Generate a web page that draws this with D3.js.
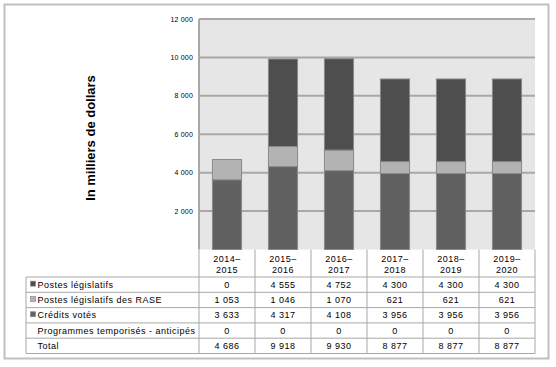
<!DOCTYPE html>
<html>
<head>
<meta charset="utf-8">
<script src="https://cdn.jsdelivr.net/npm/d3@7"></script>
<style>
  body { margin: 0; background: #fff; }
  text { font-family: "Liberation Sans", Arial, sans-serif; fill: #000; }
  .tbl text { letter-spacing: 0.5px; }
</style>
</head>
<body>
<script>
// DATA //
const years = ['2014–2015', '2015–2016', '2016–2017', '2017–2018', '2018–2019', '2019–2020'];
const postesLegislatifs = [0, 4555, 4752, 4300, 4300, 4300];
const postesRase = [1053, 1046, 1070, 621, 621, 621];
const creditsVotes = [3633, 4317, 4108, 3956, 3956, 3956];
const programmesTemp = [0, 0, 0, 0, 0, 0];
const totals = [4686, 9918, 9930, 8877, 8877, 8877];
const yTicks = [2000, 4000, 6000, 8000, 10000, 12000];

const seriesNames = ['Postes législatifs', 'Postes législatifs des RASE', 'Crédits votés', 'Programmes temporisés - anticipés', 'Total'];
const colors = { credits: '#616161', rase: '#b3b3b3', postes: '#4e4e4e' };

const fmt = v => d3.format(',')(v).replace(/,/g, ' ');

// dimensions
const W = 556, H = 367;
const plot = { left: 199, right: 535, top: 19, bottom: 249.5 };

const svg = d3.select('body').append('svg')
    .attr('width', W)
    .attr('height', H);

// outer frame
svg.append('rect')
    .attr('x', 4.5).attr('y', 4.5)
    .attr('width', 544).attr('height', 354)
    .attr('fill', '#fff')
    .attr('stroke', '#bfbfbf')
    .attr('stroke-width', 2);

// scales
const x = d3.scaleBand()
    .domain(years)
    .range([plot.left, plot.right])
    .paddingInner(0.48)
    .paddingOuter(0.24);
const col = d3.scaleBand().domain(years).range([plot.left, plot.right]);
const y = d3.scaleLinear()
    .domain([0, 12000])
    .range([plot.bottom, plot.top]);

// plot background
svg.append('rect')
    .attr('x', plot.left).attr('y', plot.top)
    .attr('width', plot.right - plot.left)
    .attr('height', plot.bottom - plot.top)
    .attr('fill', '#e6e6e6');

// gridlines
svg.append('g')
    .selectAll('line')
    .data(yTicks)
    .join('line')
    .attr('x1', plot.left).attr('x2', plot.right)
    .attr('y1', d => y(d)).attr('y2', d => y(d))
    .attr('stroke', '#a8a8a8')
    .attr('stroke-width', 2);

// left axis line
svg.append('line')
    .attr('x1', plot.left).attr('x2', plot.left)
    .attr('y1', plot.top).attr('y2', plot.bottom)
    .attr('stroke', '#a8a8a8').attr('stroke-width', 2);

// tick labels
svg.append('g')
    .selectAll('text')
    .data(yTicks)
    .join('text')
    .attr('x', 193)
    .attr('y', d => y(d) + 2.5)
    .attr('text-anchor', 'end')
    .style('font-size', '7px')
    .style('letter-spacing', '0.2px')
    .text(d => fmt(d));

// stacked bars
const rows = years.map((yr, i) => ({ year: yr, credits: creditsVotes[i], rase: postesRase[i], postes: postesLegislatifs[i] }));
const stack = d3.stack().keys(['credits', 'rase', 'postes']);
const layers = stack(rows);

svg.append('g')
    .selectAll('g')
    .data(layers)
    .join('g')
    .attr('fill', d => colors[d.key])
    .selectAll('rect')
    .data(d => d.filter(s => s[1] - s[0] > 0))
    .join('rect')
    .attr('x', d => x(d.data.year))
    .attr('width', x.bandwidth())
    .attr('y', d => y(d[1]))
    .attr('height', d => y(d[0]) - y(d[1]))
    .attr('stroke', '#8a8a8a')
    .attr('stroke-width', 1);

// y axis title
svg.append('text')
    .attr('transform', 'translate(95, 138) rotate(-90)')
    .attr('text-anchor', 'middle')
    .style('font-size', '13px')
    .style('font-weight', 'bold')
    .text('In milliers de dollars');

// TABLE //
const tbl = { left: 26, headerBottom: 277, rowH: 15.3 };
const tableBottom = tbl.headerBottom + tbl.rowH * 5;
const lineColor = '#a8a8a8';
const tg = svg.append('g').attr('class', 'tbl');

// vertical lines at column bounds
const colEdges = years.map(d => col(d)).concat([plot.right]);
tg.selectAll('.vline')
    .data(colEdges)
    .join('line')
    .attr('x1', d => d).attr('x2', d => d)
    .attr('y1', plot.bottom).attr('y2', tableBottom)
    .attr('stroke', lineColor).attr('stroke-width', 1);

// left edge of label column
tg.append('line')
    .attr('x1', tbl.left).attr('x2', tbl.left)
    .attr('y1', tbl.headerBottom).attr('y2', tableBottom)
    .attr('stroke', lineColor).attr('stroke-width', 1);

// horizontal lines
const hLines = d3.range(6).map(i => tbl.headerBottom + i * tbl.rowH);
tg.selectAll('.hline')
    .data(hLines)
    .join('line')
    .attr('x1', tbl.left).attr('x2', plot.right)
    .attr('y1', d => d).attr('y2', d => d)
    .attr('stroke', lineColor).attr('stroke-width', 1);

// header years (two lines)
tg.selectAll('.yr')
    .data(years)
    .join('text')
    .attr('text-anchor', 'middle')
    .style('font-size', '9px')
    .each(function (d) {
        const parts = d.split('–');
        const t = d3.select(this);
        const cx = col(d) + col.bandwidth() / 2;
        t.append('tspan').attr('x', cx).attr('y', 262).text(parts[0] + '–');
        t.append('tspan').attr('x', cx).attr('y', 273).text(parts[1]);
    });

// row labels with legend swatches
const swatch = [colors.postes, colors.rase, colors.credits, null, null];
seriesNames.forEach((name, i) => {
    const cy = tbl.headerBottom + i * tbl.rowH + tbl.rowH / 2;
    if (swatch[i]) {
        tg.append('rect')
            .attr('x', 30.5).attr('y', cy - 3.5)
            .attr('width', 5).attr('height', 5)
            .attr('fill', swatch[i])
            .attr('stroke', '#8a8a8a').attr('stroke-width', 0.7);
    }
    tg.append('text')
        .attr('x', 37.5)
        .attr('y', cy + 3)
        .style('font-size', '9px')
        .text(name);
});

// values
const tableData = [postesLegislatifs, postesRase, creditsVotes, programmesTemp, totals];
tableData.forEach((arr, i) => {
    const cy = tbl.headerBottom + i * tbl.rowH + tbl.rowH / 2;
    tg.selectAll(null)
        .data(arr)
        .join('text')
        .attr('x', (d, j) => col(years[j]) + col.bandwidth() / 2)
        .attr('y', cy + 3)
        .attr('text-anchor', 'middle')
        .style('font-size', '9px')
        .text(d => fmt(d));
});
</script>
</body>
</html>
